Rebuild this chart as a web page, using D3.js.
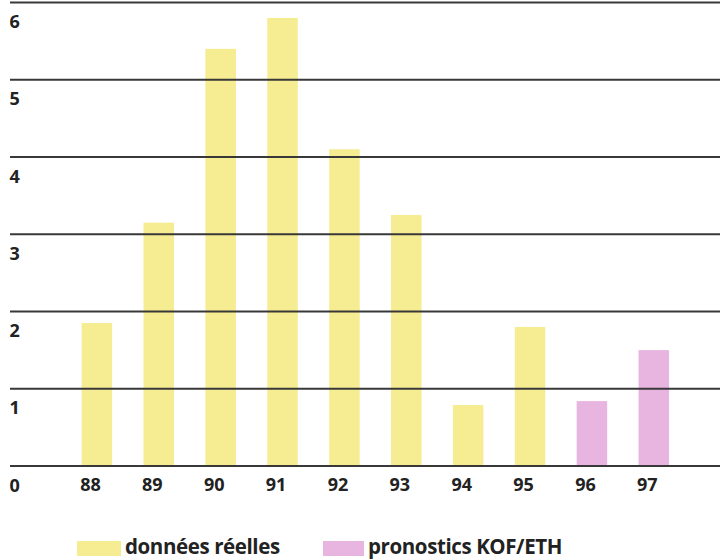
<!DOCTYPE html>
<html>
<head>
<meta charset="utf-8">
<script src="https://cdn.jsdelivr.net/npm/d3@7"></script>
<style>
  html, body { margin: 0; padding: 0; background: #fff; }
  svg { display: block; }
  text { font-family: "Open Sans", "DejaVu Sans", sans-serif; font-weight: 700; fill: #222; }
</style>
</head>
<body>
<svg id="chart" width="720" height="560"></svg>
<script>
// Years (two-digit) along the horizontal axis
const years = ["88", "89", "90", "91", "92", "93", "94", "95", "96", "97"];
// Actual figures 1988–1995
const actualValues = [1.85, 3.15, 5.4, 5.8, 4.1, 3.25, 0.79, 1.8];
// KOF/ETH forecasts for 1996–1997
const forecastValues = [0.84, 1.5];
// Value axis ticks
const yTicks = [0, 1, 2, 3, 4, 5, 6];
// Legend entries
const legendLabels = ["données réelles", "pronostics KOF/ETH"];

const colActual = "#f6ec91";
const colForecast = "#e7b5e0";

const rows = years.map((yr, i) => i < actualValues.length
  ? { year: yr, value: actualValues[i], kind: 0 }
  : { year: yr, value: forecastValues[i - actualValues.length], kind: 1 });

const svg = d3.select("#chart");

const x = d3.scaleBand()
  .domain(years)
  .range([50.7, 700])
  .paddingInner(0.507)
  .paddingOuter(0.5);

const y = d3.scaleLinear()
  .domain([0, 6])
  .range([466, 2.5]);

// Bars
svg.append("g")
  .selectAll("rect")
  .data(rows)
  .join("rect")
  .attr("x", d => x(d.year))
  .attr("width", x.bandwidth())
  .attr("y", d => y(d.value))
  .attr("height", d => y(0) - y(d.value))
  .attr("fill", d => d.kind === 0 ? colActual : colForecast);

// Horizontal rules at every unit
svg.append("g")
  .selectAll("line")
  .data(yTicks)
  .join("line")
  .attr("x1", 10)
  .attr("x2", 720)
  .attr("y1", d => y(d))
  .attr("y2", d => y(d))
  .attr("stroke", "#383838")
  .attr("stroke-width", 1.8);

// Value labels, sitting just below each rule
svg.append("g")
  .selectAll("text")
  .data(yTicks)
  .join("text")
  .attr("x", 9.5)
  .attr("y", d => y(d) + 25.5)
  .attr("font-size", 18)
  .text(d => d);

// Year labels, aligned with the left edge of each bar
const xAxis = svg.append("g")
  .attr("transform", `translate(0, ${y(0)})`)
  .call(d3.axisBottom(x).tickSize(0).tickPadding(12));
xAxis.select(".domain").remove();
xAxis.selectAll(".tick")
  .attr("transform", d => `translate(${x(d) - 1.5}, 0)`);
xAxis.selectAll("text")
  .attr("text-anchor", "start")
  .attr("font-size", 18)
  .attr("font-family", "'Open Sans', 'DejaVu Sans', sans-serif")
  .attr("font-weight", 700)
  .attr("fill", "#222");

// Legend
const legend = svg.append("g");
const legendItems = [
  { label: legendLabels[0], color: colActual, sx: 77, tx: 125 },
  { label: legendLabels[1], color: colForecast, sx: 323, tx: 368 }
];
legend.selectAll("rect")
  .data(legendItems)
  .join("rect")
  .attr("x", d => d.sx)
  .attr("y", 541)
  .attr("width", d => d.tx - d.sx - 4)
  .attr("height", 15)
  .attr("fill", d => d.color);
legend.selectAll("text")
  .data(legendItems)
  .join("text")
  .attr("x", d => d.tx)
  .attr("y", 554)
  .attr("font-size", 20.5)
  .attr("letter-spacing", -0.4)
  .text(d => d.label);
</script>
</body>
</html>
